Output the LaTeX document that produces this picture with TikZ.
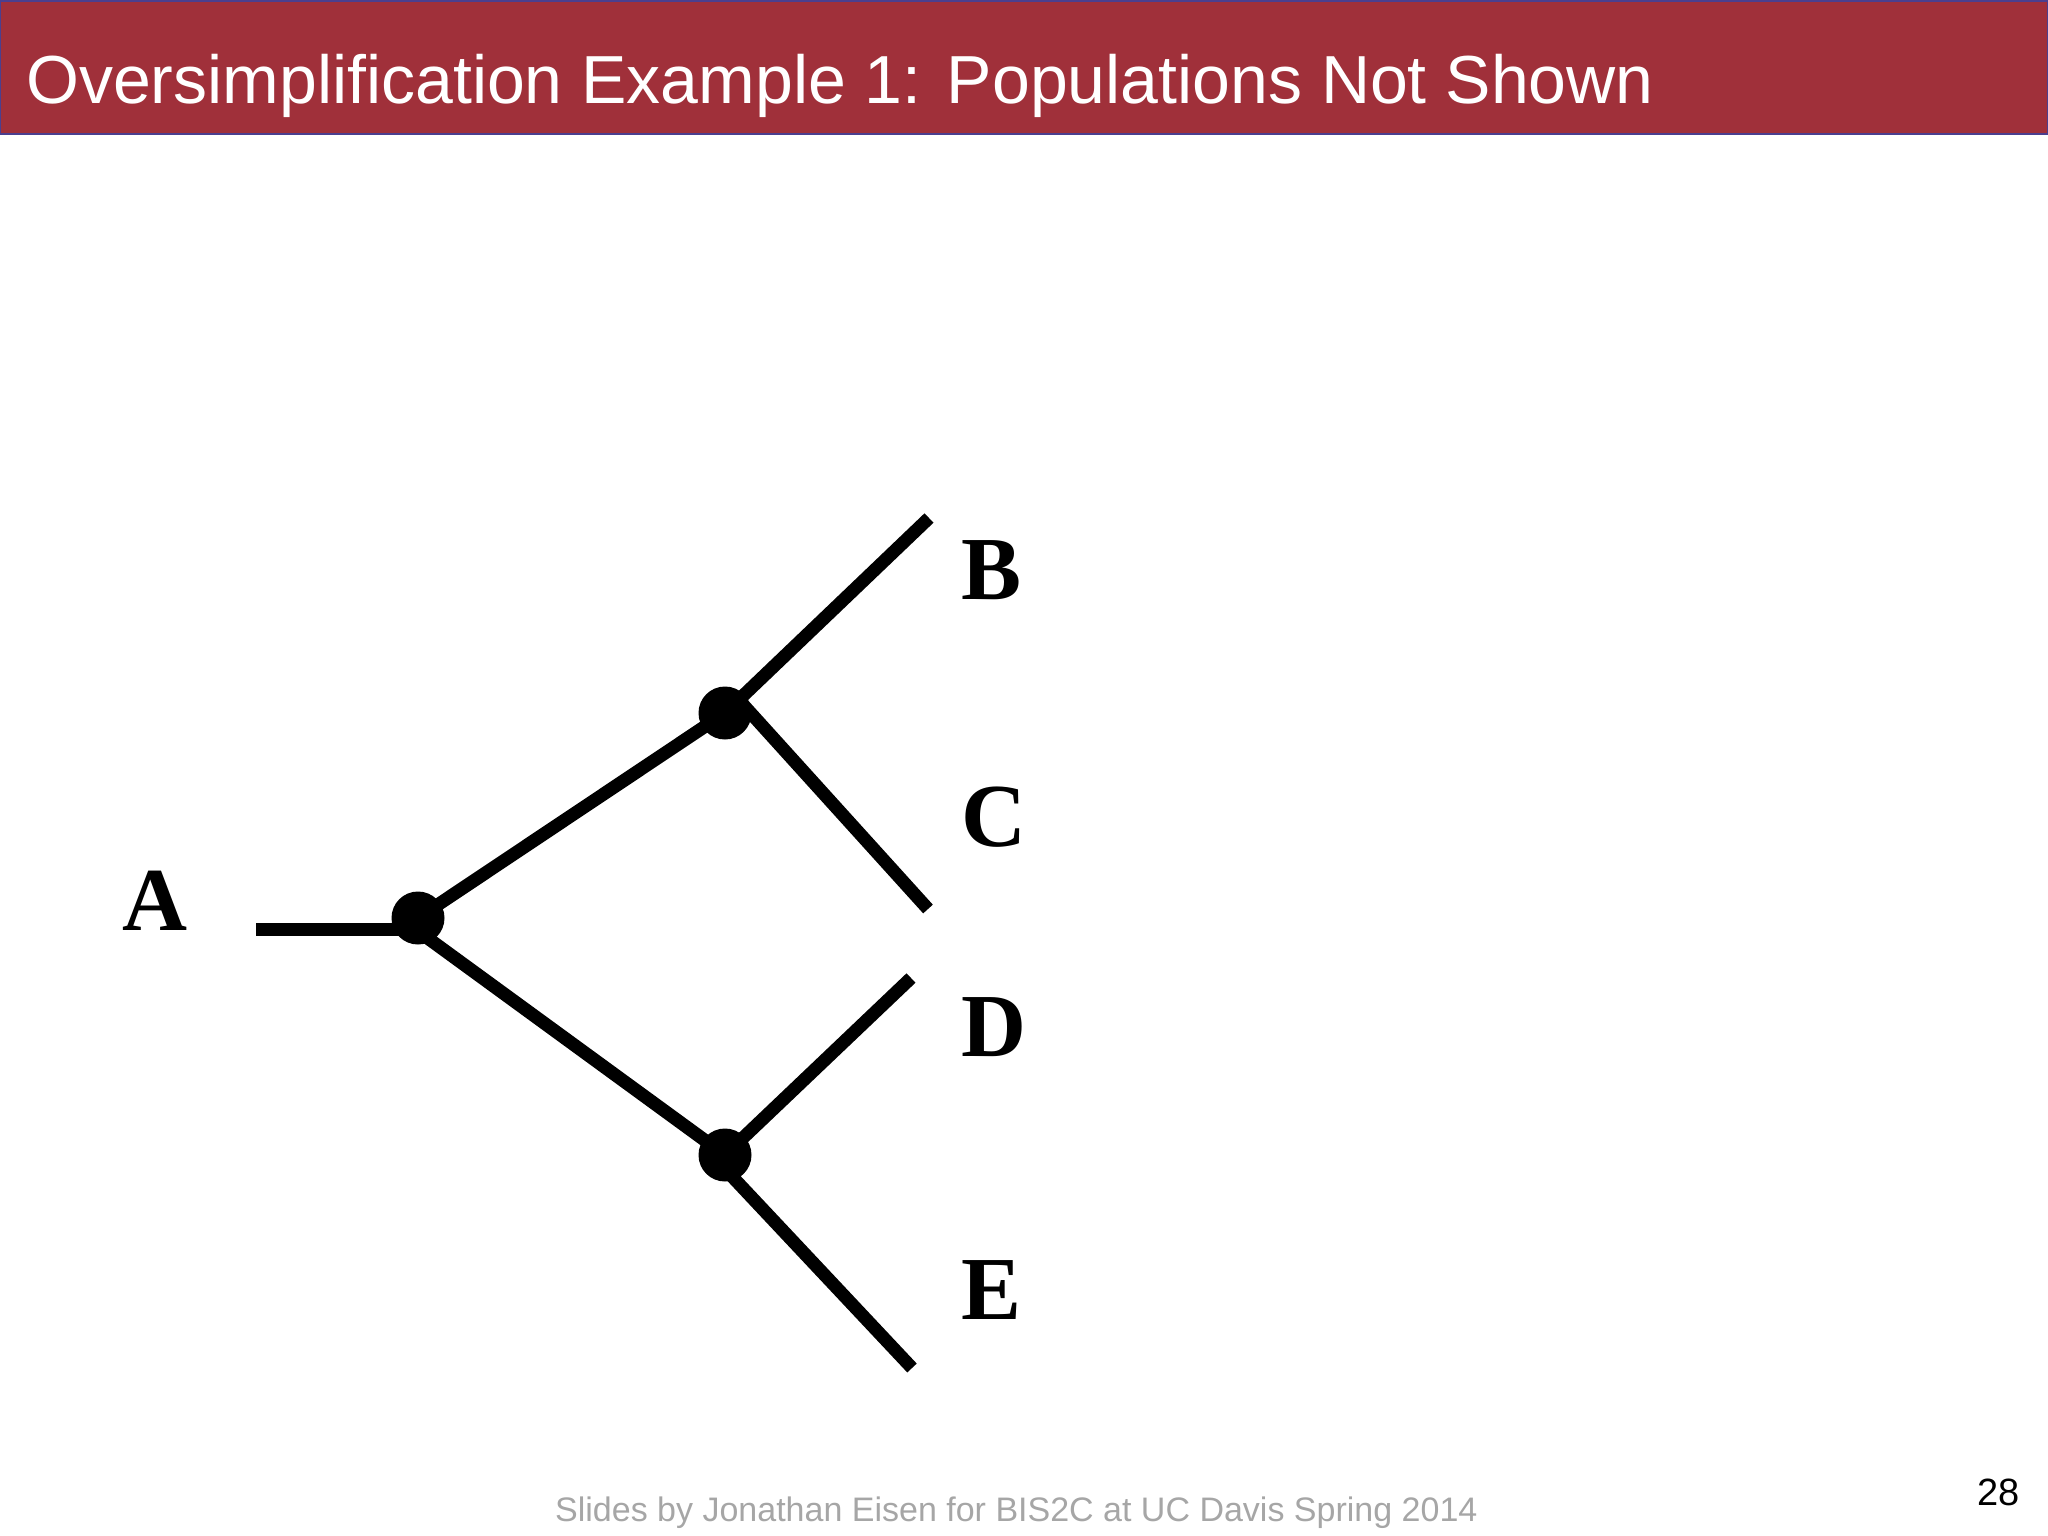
\documentclass[tikz,border=0pt]{standalone}
\usepackage{fontspec}
\setmainfont{Liberation Sans}
\newfontfamily\taxonfont{Liberation Serif}
\definecolor{barred}{HTML}{A0303A}
\definecolor{baredge}{HTML}{4B3F8F}
\definecolor{footgray}{HTML}{A6A6A6}
\tikzset{
  branch/.style={line width=13pt},
  split/.style={circle, fill=black, minimum size=53pt, inner sep=0pt},
  taxon/.style={font=\taxonfont\bfseries\fontsize{90}{90}\selectfont, inner sep=0pt, anchor=base west},
}
\begin{document}
\begin{tikzpicture}[x=1pt,y=-1pt]
\useasboundingbox (0,0) rectangle (2048,1536);
% title bar
\draw [fill=barred, draw=baredge, line width=2pt] (0,1) rectangle (2048,134);
\node [anchor=base west, inner sep=0pt, text=white, font=\fontsize{68}{68}\selectfont] (title) at (26,104) {Oversimplification Example 1: Populations Not Shown};
% tree
\coordinate (a) at (256,929);
\coordinate (ab) at (418,918);
\coordinate (abdown) at (418,931);
\coordinate (bc) at (725,713);
\coordinate (bcout) at (738,699);
\coordinate (de) at (725,1155);
\coordinate (deout) at (726,1170);
\coordinate (b) at (929,518);
\coordinate (c) at (928,909);
\coordinate (d) at (911,978);
\coordinate (e) at (912,1368);
\draw [branch] (a) -- (a -| ab);
\draw [branch] (ab) -- (bc);
\draw [branch] (abdown) -- (de);
\draw [branch] (bc) -- (b);
\draw [branch] (bcout) -- (c);
\draw [branch] (de) -- (d);
\draw [branch] (deout) -- (e);
\node [split] (rootdot) at (ab) {};
\node [split] (bcdot) at (bc) {};
\node [split] (dedot) at (de) {};
% tip labels
\node [taxon] (labA) at (122,930) {A};
\node [taxon] (labB) at (961,599) {B};
\node [taxon] (labC) at (961,846) {C};
\node [taxon] (labD) at (961,1056) {D};
\node [taxon] (labE) at (961,1319) {E};
% footer
\node [anchor=base west, inner sep=0pt, text=footgray, font=\fontsize{34}{34}\selectfont] (credit) at (555,1521) {Slides by Jonathan Eisen for BIS2C at UC Davis Spring 2014};
\node [anchor=base east, inner sep=0pt, font=\fontsize{38}{38}\selectfont] (pagenum) at (2020,1505) {28};
\end{tikzpicture}
\end{document}
